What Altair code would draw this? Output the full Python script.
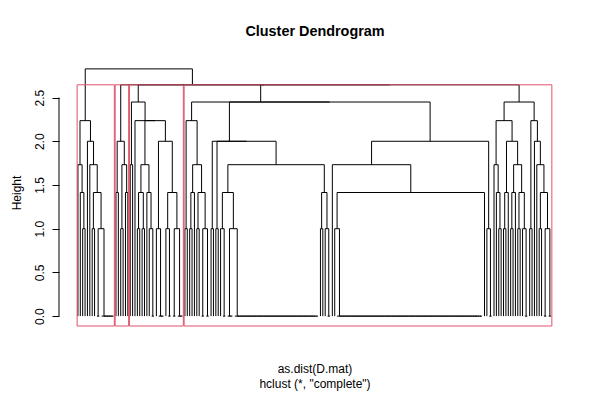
import altair as alt
import pandas as pd

# Merge heights used in the tree (complete linkage on a 0/1 distance matrix)
# A node is [height, left, right]; an int is a run of identical items that merge at 0.
box1 = [2.236,
        [1.732, 1, [1.414, 1, [1.0, 1, 1]]],
        [2.0, 1, [1.732, 1, [1.414, [1.0, 1, 1], [1.0, 2, 6]]]]]

box2 = [2.0, [1.414, 1, 1], [1.732, [1.0, 1, 1], [1.414, 1, 1]]]

box3 = [2.449,
        [1.732, 1, 1],
        [2.236, 1,
         [2.236,
          [1.732, [1.414, [1.0, 1, 1], [1.0, 1, 1]], [1.414, 1, [1.0, 1, 2]]],
          [2.0, [1.0, 1, 3], [1.414, [1.0, 1, 2], [1.0, 2, 3]]]]]]

branch_a = [2.236, [1.0, 1, 1],
            [1.732, [1.414, [1.0, 1, 1], 1], [1.414, [1.0, 1, 1], [1.0, 2, 2]]]]
branch_b2 = [1.732, [1.414, [1.0, 1, 2], [1.0, 3, 36]],
             [1.414, [1.0, 1, 1], [1.0, 1, 2]]]
branch_b = [2.0, [1.0, 1, 1], [2.0, [1.0, 1, 1], branch_b2]]
branch_c = [2.0, [1.732, 1, [1.414, [1.0, 1, 62], 1]], [1.0, 1, 2]]
branch_rc = [2.449,
             [2.236,
              [1.732, 1, [1.414, 1, [1.0, 1, 1]]],
              [2.0, [1.414, [1.0, 1, 1], 1],
               [1.732, [1.414, [1.0, 1, 1], 1], [1.414, [1.0, 1, 1], [1.0, 1, 2]]]]],
             [2.236, [1.0, 1, 1], [2.0, 1, [1.732, 1, [1.414, [1.0, 1, 1], [1.0, 2, 2]]]]]]

box4 = [2.646, [2.449, branch_a, [2.449, branch_b, branch_c]], branch_rc]
tree = [2.828, box1, [2.646, box2, [2.646, box3, box4]]]
clusters = [box1, box2, box3, box4]

y_ticks = [0.0, 0.5, 1.0, 1.5, 2.0, 2.5]
title_text = "Cluster Dendrogram"
xlab_text = "as.dist(D.mat)"
sub_text = 'hclust (*, "complete")'
ylab_text = "Height"

FONT = "Liberation Sans"

segs = []
heights = []


def size(node):
    if isinstance(node, int):
        return node
    return size(node[1]) + size(node[2])


def place(node, start):
    # returns x of node, its height, and next free leaf slot (leaves numbered from 1)
    if isinstance(node, int):
        x = start + node - 1
        for j in range(start + node - 2, start - 1, -1):
            segs.append((j, x, 0.0, 0.0))
            x = (j + x) / 2
        return x, 0.0, start + node
    h, left, right = node
    heights.append(h)
    xl, hl, nxt = place(left, start)
    xr, hr, nxt = place(right, nxt)
    if h > hl:
        segs.append((xl, xl, hl, h))
    if h > hr:
        segs.append((xr, xr, hr, h))
    segs.append((xl, xr, h, h))
    return (xl + xr) / 2, h, nxt


place(tree, 1)
n = size(tree)
top = max(heights)
ymin, ymax = -0.04 * top, top * 1.04
xmin, xmax = 1 - 0.04 * (n - 1), n + 0.04 * (n - 1)

seg_df = pd.DataFrame(segs, columns=["x", "x2", "y", "y2"])

# rect.hclust(k=4) boxes
k = len(clusters)
hs = sorted(heights, reverse=True)
cut = (hs[k - 2] + hs[k - 1]) / 2
rows = []
first = 1
for c in clusters:
    last = first + size(c) - 1
    rows.append({"x": first - 0.34, "x2": last + 0.33, "y": ymin, "y2": cut})
    first = last + 1
box_df = pd.DataFrame(rows)

W, H = 511, 267
xs = alt.Scale(domain=[xmin, xmax], nice=False, zero=False)
ys = alt.Scale(domain=[ymin, ymax], nice=False, zero=False)
yax = alt.Axis(values=y_ticks, format=".1f", title=None, grid=False, domain=False,
               tickSize=7, tickColor="black", tickWidth=1, labelAngle=270,
               labelAlign="center", labelBaseline="alphabetic", labelPadding=9,
               labelFont=FONT, labelFontSize=12, labelColor="black")

lines = alt.Chart(seg_df).mark_rule(color="black", strokeWidth=1).encode(
    x=alt.X("x:Q", scale=xs, axis=None), x2="x2",
    y=alt.Y("y:Q", scale=ys, axis=yax), y2="y2")

boxes = alt.Chart(box_df).mark_rect(fillOpacity=0, stroke="#DF536B", strokeWidth=1).encode(
    x=alt.X("x:Q", scale=xs, axis=None), x2="x2",
    y=alt.Y("y:Q", scale=ys, axis=yax), y2="y2")

axis_line = alt.Chart(pd.DataFrame({"y": [y_ticks[0]], "y2": [y_ticks[-1]]})).mark_rule(
    color="black", strokeWidth=1).encode(
    x=alt.value(0), y=alt.Y("y:Q", scale=ys, axis=yax), y2="y2")


def label(txt, x, y, **kw):
    return alt.Chart(pd.DataFrame({"t": [txt]})).mark_text(
        font=FONT, color="black", baseline="middle", align="center", **kw).encode(
        text="t:N", x=alt.value(x), y=alt.value(y))


chart = alt.layer(
    lines, boxes, axis_line,
    label(title_text, 256, -27, fontSize=14.4, fontWeight="bold"),
    label(xlab_text, 256, 310, fontSize=12),
    label(sub_text, 256, 325, fontSize=12),
    label(ylab_text, -42, 134, fontSize=12, angle=270),
).properties(
    width=W, height=H, autosize="none",
    padding={"left": 51, "top": 51, "right": 22, "bottom": 66}
).configure_view(strokeOpacity=0)

chart.save("out.html", embed_options={"renderer": "svg", "actions": False})
